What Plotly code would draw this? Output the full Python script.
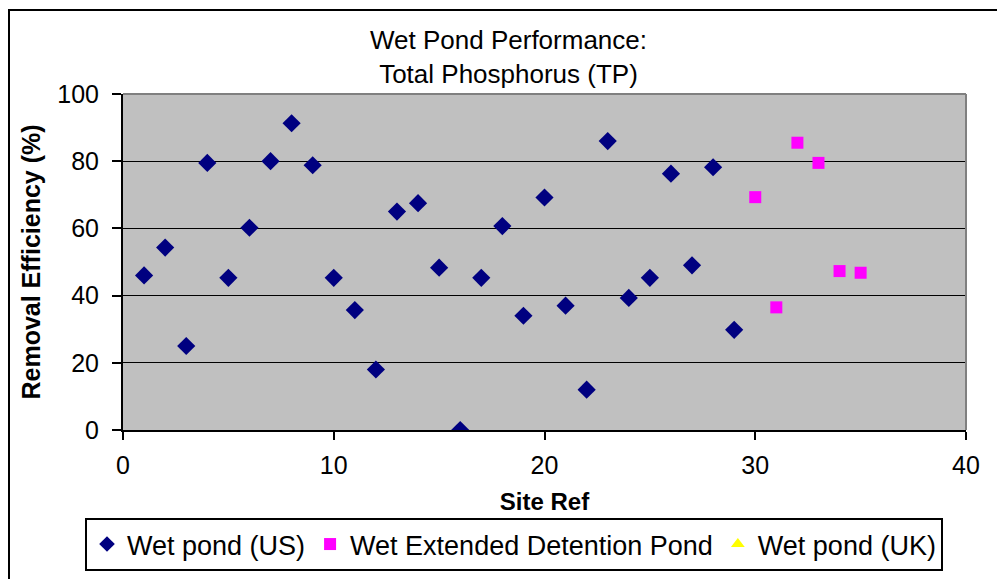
import plotly.graph_objects as go

us_x = list(range(1, 30))
us_y = [46, 54.3, 25, 79.5, 45.3, 60.2, 80, 91.3, 78.8, 45.3, 35.7, 18, 65, 67.5, 48.3,
        0, 45.3, 60.7, 34, 69.2, 37, 12, 86, 39.3, 45.3, 76.3, 49, 78.2, 29.8]
ed_x = [30, 31, 32, 33, 34, 35]
ed_y = [69.3, 36.5, 85.5, 79.5, 47.3, 46.8]
uk_x = [None]
uk_y = [None]

FONT = "Liberation Sans, Arial, sans-serif"
L, R, T, B = 123, 966, 94, 430
W, H = 997, 579
pw, ph = R - L, B - T

def px(x):
    return (x - L) / pw

def py(y):
    return (B - y) / ph

fig = go.Figure()
fig.add_trace(go.Scatter(x=us_x, y=us_y, mode="markers", name="Wet pond (US)",
                         marker=dict(symbol="diamond", size=14, color="#000080",
                                     line=dict(width=0))))
fig.add_trace(go.Scatter(x=ed_x, y=ed_y, mode="markers", name="Wet Extended Detention Pond",
                         marker=dict(symbol="square", size=12, color="#FF00FF",
                                     line=dict(width=0))))
fig.add_trace(go.Scatter(x=uk_x, y=uk_y, mode="markers", name="Wet pond (UK)",
                         marker=dict(symbol="triangle-up", size=12, color="#FFFF00",
                                     line=dict(width=0))))

fig.update_layout(
    width=W, height=H,
    margin=dict(l=L, r=W - R, t=T, b=H - B, autoexpand=False),
    paper_bgcolor="white",
    plot_bgcolor="#C0C0C0",
    font=dict(family=FONT, size=25, color="black"),
    showlegend=True,
    legend=dict(orientation="h", x=px(85), y=py(518), xanchor="left", yanchor="top",
                bordercolor="black", borderwidth=2, bgcolor="white",
                font=dict(family=FONT, size=27), itemsizing="constant"),
    xaxis=dict(range=[0, 40], tick0=0, dtick=10, showgrid=False, zeroline=False,
               showline=True, linecolor="black", linewidth=2, ticks="outside",
               ticklen=8, tickwidth=2, tickcolor="black", mirror=False,
               ticklabelstandoff=4, automargin=False,
               tickfont=dict(family=FONT, size=25),
               title=dict(text="<b>Site Ref</b>", font=dict(family=FONT, size=24), standoff=15)),
    yaxis=dict(range=[0, 100], tick0=0, dtick=20, showgrid=True, gridcolor="black",
               gridwidth=1, zeroline=False, showline=True, linecolor="black", linewidth=2,
               ticks="outside", ticklen=9, tickwidth=2, tickcolor="black",
               ticklabelstandoff=8, automargin=False,
               tickfont=dict(family=FONT, size=25),
               title=dict(text="<b>Removal Efficiency (%)</b>", font=dict(family=FONT, size=25),
                          standoff=10)),
)

# plot-area top/right gray border
fig.add_shape(type="line", xref="paper", yref="paper", x0=0, x1=1, y0=1, y1=1,
              line=dict(color="#808080", width=2))
fig.add_shape(type="line", xref="paper", yref="paper", x0=1, x1=1, y0=0, y1=1,
              line=dict(color="#808080", width=2))
# outer chart frame
fig.add_shape(type="rect", xref="paper", yref="paper", x0=px(9), x1=px(1005),
              y0=py(590), y1=py(10), line=dict(color="black", width=2),
              fillcolor="rgba(0,0,0,0)", layer="above")

fig.add_annotation(xref="paper", yref="paper", x=px(508), y=py(57), xanchor="center",
                   yanchor="middle", showarrow=False,
                   text="Wet Pond Performance:<br>Total Phosphorus (TP)",
                   font=dict(family=FONT, size=26))

fig.write_html("out.html")
